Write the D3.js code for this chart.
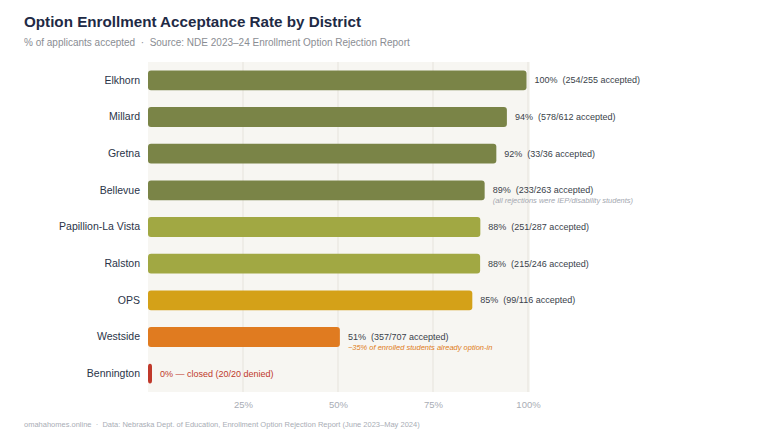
<!DOCTYPE html>
<html>
<head>
<meta charset="utf-8">
<script src="https://cdn.jsdelivr.net/npm/d3@7"></script>
<style>
  body { margin: 0; background: #fff; }
  svg text { font-family: "Liberation Sans", Arial, sans-serif; white-space: pre; }
</style>
</head>
<body>
<svg id="chart" width="760" height="440"></svg>
<script>
const districts = ['Elkhorn','Millard','Gretna','Bellevue','Papillion-La Vista','Ralston','OPS','Westside','Bennington'];
const accepted  = [254, 578, 33, 233, 251, 215, 99, 357, 0];
const applied   = [255, 612, 36, 263, 287, 246, 116, 707, 20];
const pctLabels = ['100%','94%','92%','89%','88%','88%','85%','51%','0%'];
const barColors = ['#7a8447','#7a8447','#7a8447','#7a8447','#a1a843','#a1a843','#d4a118','#e07b20','#c0392b'];
const notes     = {Bellevue: '(all rejections were IEP/disability students)', Westside: '~35% of enrolled students already option-in'};
const ticks     = [25, 50, 75, 100];

const svg = d3.select('#chart');
const M = {left: 148, right: 528, top: 62, bottom: 392};

const x = d3.scaleLinear().domain([0, 100]).range([M.left, M.right]);
const y = d3.scaleBand().domain(districts).range([M.top, M.bottom]).paddingInner(0.46).paddingOuter(0.23);

// title block
svg.append('text').attr('x', 24).attr('y', 27).attr('font-size', 15.2).attr('font-weight', 700)
  .attr('fill', '#1e2a45').text('Option Enrollment Acceptance Rate by District');
svg.append('text').attr('x', 24).attr('y', 46).attr('font-size', 10).attr('fill', '#8a8d93')
  .text('% of applicants accepted  ·  Source: NDE 2023–24 Enrollment Option Rejection Report');

// plot background + grid
svg.append('rect').attr('x', M.left).attr('y', M.top).attr('width', x(100) - M.left + 2)
  .attr('height', M.bottom - M.top).attr('fill', '#f7f6f2');
svg.append('g').selectAll('line').data(ticks).join('line')
  .attr('x1', d => x(d)).attr('x2', d => x(d)).attr('y1', M.top).attr('y2', M.bottom)
  .attr('stroke', '#e6e3dc').attr('stroke-width', 1);

// x axis labels
const ax = svg.append('g').attr('transform', `translate(0,${M.bottom})`)
  .call(d3.axisBottom(x).tickValues(ticks).tickFormat(d => d + '%').tickSize(0).tickPadding(9));
ax.select('.domain').remove();
ax.selectAll('text').attr('font-size', 9.5).attr('fill', '#a9adb5');

// y axis labels
const ay = svg.append('g').attr('transform', `translate(${M.left - 8},0)`)
  .call(d3.axisLeft(y).tickSize(0).tickPadding(0));
ay.select('.domain').remove();
ay.selectAll('text').attr('font-size', 10.5).attr('fill', '#2a3448');

const rows = districts.map((d, i) => ({name: d, pct: accepted[i] / applied[i] * 100, i}));

// bars
svg.append('g').selectAll('rect').data(rows).join('rect')
  .attr('x', x(0)).attr('y', d => y(d.name))
  .attr('width', d => Math.max(x(d.pct) - x(0), 4))
  .attr('height', y.bandwidth()).attr('rx', 3)
  .attr('fill', d => barColors[d.i]);

// value labels
svg.append('g').selectAll('text').data(rows).join('text')
  .attr('x', d => Math.max(x(d.pct), x(0) + 4) + 8)
  .attr('y', d => y(d.name) + y.bandwidth() / 2).attr('dy', '0.35em')
  .attr('font-size', 9)
  .attr('fill', d => d.pct === 0 ? '#c0392b' : '#3a3f4a')
  .text(d => d.pct === 0
    ? `0% — closed (${applied[d.i]}/${applied[d.i]} denied)`
    : `${pctLabels[d.i]}  (${accepted[d.i]}/${applied[d.i]} accepted)`);

// notes
svg.append('g').selectAll('text').data(rows.filter(d => notes[d.name])).join('text')
  .attr('x', d => x(d.pct) + 8)
  .attr('y', d => y(d.name) + y.bandwidth() / 2 + 13)
  .attr('font-size', 7.5).attr('font-style', 'italic')
  .attr('fill', d => d.name === 'Westside' ? '#e07b20' : '#a3a7b0')
  .text(d => notes[d.name]);

// footer
svg.append('text').attr('x', 24).attr('y', 427).attr('font-size', 7.5).attr('fill', '#a9adb5')
  .text('omahahomes.online  ·  Data: Nebraska Dept. of Education, Enrollment Option Rejection Report (June 2023–May 2024)');
</script>
</body>
</html>
